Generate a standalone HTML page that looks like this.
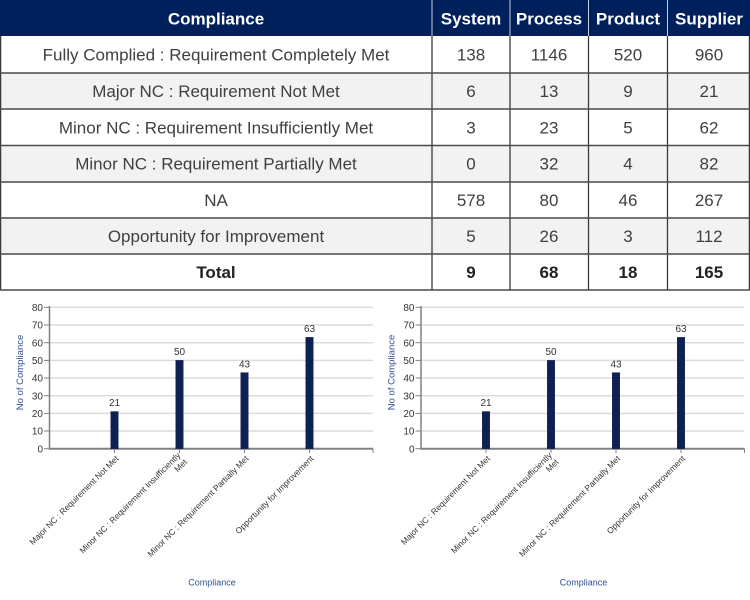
<!DOCTYPE html>
<html>
<head>
<meta charset="utf-8">
<style>
html,body{margin:0;padding:0;background:#fff;}
svg{display:block;}
.hd{font-family:"Liberation Sans",Arial,sans-serif;font-size:17px;font-weight:bold;fill:#fff;text-anchor:middle;}
.td{font-family:"Liberation Sans",Arial,sans-serif;font-size:17px;fill:#404040;text-anchor:middle;}
.tb{font-family:"Liberation Sans",Arial,sans-serif;font-size:17px;font-weight:bold;fill:#222;text-anchor:middle;}
.yt{font-family:"Liberation Sans",Arial,sans-serif;font-size:10px;fill:#333;text-anchor:end;}
.vl{font-family:"Liberation Sans",Arial,sans-serif;font-size:10px;fill:#333;text-anchor:middle;}
.xl{font-family:"Liberation Sans",Arial,sans-serif;font-size:8.4px;fill:#333;text-anchor:end;}
.at{font-family:"Liberation Sans",Arial,sans-serif;font-size:9px;fill:#2f4f8f;text-anchor:middle;}
</style>
</head>
<body>
<svg width="750" height="600" viewBox="0 0 750 600" xmlns="http://www.w3.org/2000/svg">
  <!-- TABLE -->
  <rect x="0" y="0" width="750" height="36" fill="#00205b"/>
  <rect x="0" y="36" width="750" height="37" fill="#ffffff"/>
  <rect x="0" y="73" width="750" height="36" fill="#f2f2f2"/>
  <rect x="0" y="109" width="750" height="36.5" fill="#ffffff"/>
  <rect x="0" y="145.5" width="750" height="36.5" fill="#f2f2f2"/>
  <rect x="0" y="182" width="750" height="36" fill="#ffffff"/>
  <rect x="0" y="218" width="750" height="36" fill="#f2f2f2"/>
  <rect x="0" y="254" width="750" height="36" fill="#ffffff"/>

  <!-- header dividers -->
  <g stroke="#c8d0e0" stroke-width="1">
    <line x1="432" y1="0" x2="432" y2="36"/>
    <line x1="510" y1="0" x2="510" y2="36"/>
    <line x1="588.5" y1="0" x2="588.5" y2="36"/>
    <line x1="667.5" y1="0" x2="667.5" y2="36"/>
  </g>
  <!-- body vertical lines -->
  <g stroke="#3a3a3a" stroke-width="1.3">
    <line x1="0.6" y1="36" x2="0.6" y2="290"/>
    <line x1="432" y1="36" x2="432" y2="290"/>
    <line x1="510" y1="36" x2="510" y2="290"/>
    <line x1="588.5" y1="36" x2="588.5" y2="290"/>
    <line x1="667.5" y1="36" x2="667.5" y2="290"/>
    <line x1="749.4" y1="36" x2="749.4" y2="290"/>
  </g>
  <!-- horizontal lines -->
  <g stroke="#4a4a4a" stroke-width="1.5">
    <line x1="0" y1="73" x2="750" y2="73"/>
    <line x1="0" y1="109" x2="750" y2="109"/>
    <line x1="0" y1="145.5" x2="750" y2="145.5"/>
    <line x1="0" y1="182" x2="750" y2="182"/>
    <line x1="0" y1="218" x2="750" y2="218"/>
    <line x1="0" y1="254" x2="750" y2="254"/>
    <line x1="0" y1="290" x2="750" y2="290"/>
  </g>

  <text class="hd" x="216" y="24.5">Compliance</text>
  <text class="hd" x="471" y="24.5">System</text>
  <text class="hd" x="549" y="24.5">Process</text>
  <text class="hd" x="628" y="24.5">Product</text>
  <text class="hd" x="709" y="24.5">Supplier</text>

  <text class="td" x="216" y="60.5">Fully Complied : Requirement Completely Met</text>
  <text class="td" x="471" y="60.5">138</text><text class="td" x="549" y="60.5">1146</text><text class="td" x="628" y="60.5">520</text><text class="td" x="709" y="60.5">960</text>

  <text class="td" x="216" y="97">Major NC : Requirement Not Met</text>
  <text class="td" x="471" y="97">6</text><text class="td" x="549" y="97">13</text><text class="td" x="628" y="97">9</text><text class="td" x="709" y="97">21</text>

  <text class="td" x="216" y="133.3">Minor NC : Requirement Insufficiently Met</text>
  <text class="td" x="471" y="133.3">3</text><text class="td" x="549" y="133.3">23</text><text class="td" x="628" y="133.3">5</text><text class="td" x="709" y="133.3">62</text>

  <text class="td" x="216" y="169.7">Minor NC : Requirement Partially Met</text>
  <text class="td" x="471" y="169.7">0</text><text class="td" x="549" y="169.7">32</text><text class="td" x="628" y="169.7">4</text><text class="td" x="709" y="169.7">82</text>

  <text class="td" x="216" y="206">NA</text>
  <text class="td" x="471" y="206">578</text><text class="td" x="549" y="206">80</text><text class="td" x="628" y="206">46</text><text class="td" x="709" y="206">267</text>

  <text class="td" x="216" y="242">Opportunity for Improvement</text>
  <text class="td" x="471" y="242">5</text><text class="td" x="549" y="242">26</text><text class="td" x="628" y="242">3</text><text class="td" x="709" y="242">112</text>

  <text class="tb" x="216" y="278">Total</text>
  <text class="tb" x="471" y="278">9</text><text class="tb" x="549" y="278">68</text><text class="tb" x="628" y="278">18</text><text class="tb" x="709" y="278">165</text>

  <!-- CHART DEFINITION -->
  <defs>
    <g id="chart">
      <!-- gridlines -->
      <g stroke="#dcdcdc" stroke-width="1.5">
        <line x1="49.5" y1="307.3" x2="373" y2="307.3"/>
        <line x1="49.5" y1="325.0" x2="373" y2="325.0"/>
        <line x1="49.5" y1="342.7" x2="373" y2="342.7"/>
        <line x1="49.5" y1="360.4" x2="373" y2="360.4"/>
        <line x1="49.5" y1="378.0" x2="373" y2="378.0"/>
        <line x1="49.5" y1="395.7" x2="373" y2="395.7"/>
        <line x1="49.5" y1="413.4" x2="373" y2="413.4"/>
        <line x1="49.5" y1="431.0" x2="373" y2="431.0"/>
      </g>
      <!-- y ticks -->
      <g stroke="#808080" stroke-width="1">
        <line x1="44" y1="307.3" x2="49.5" y2="307.3"/>
        <line x1="44" y1="325.0" x2="49.5" y2="325.0"/>
        <line x1="44" y1="342.7" x2="49.5" y2="342.7"/>
        <line x1="44" y1="360.4" x2="49.5" y2="360.4"/>
        <line x1="44" y1="378.0" x2="49.5" y2="378.0"/>
        <line x1="44" y1="395.7" x2="49.5" y2="395.7"/>
        <line x1="44" y1="413.4" x2="49.5" y2="413.4"/>
        <line x1="44" y1="431.0" x2="49.5" y2="431.0"/>
        <line x1="44" y1="448.7" x2="49.5" y2="448.7"/>
        <line x1="114.5" y1="448.7" x2="114.5" y2="453"/>
        <line x1="179.5" y1="448.7" x2="179.5" y2="453"/>
        <line x1="244.5" y1="448.7" x2="244.5" y2="453"/>
        <line x1="309.5" y1="448.7" x2="309.5" y2="453"/>
        <line x1="373" y1="448.7" x2="373" y2="453"/>
      </g>
      <line x1="49.5" y1="306" x2="49.5" y2="449.5" stroke="#808080" stroke-width="1.5"/>
      <line x1="49" y1="448.7" x2="373" y2="448.7" stroke="#808080" stroke-width="2"/>
      <!-- y labels -->
      <text class="yt" x="43" y="311">80</text>
      <text class="yt" x="43" y="328.7">70</text>
      <text class="yt" x="43" y="346.4">60</text>
      <text class="yt" x="43" y="364.1">50</text>
      <text class="yt" x="43" y="381.7">40</text>
      <text class="yt" x="43" y="399.4">30</text>
      <text class="yt" x="43" y="417.1">20</text>
      <text class="yt" x="43" y="434.7">10</text>
      <text class="yt" x="43" y="452.4">0</text>
      <!-- bars -->
      <g fill="#0d2253" stroke="#1b2c5a" stroke-width="0.6">
        <rect x="110.8" y="411.6" width="7.4" height="37.1"/>
        <rect x="175.8" y="360.4" width="7.4" height="88.3"/>
        <rect x="240.8" y="372.7" width="7.4" height="76"/>
        <rect x="305.8" y="337.4" width="7.4" height="111.3"/>
      </g>
      <!-- value labels -->
      <text class="vl" x="114.5" y="406">21</text>
      <text class="vl" x="179.5" y="355">50</text>
      <text class="vl" x="244.5" y="367.3">43</text>
      <text class="vl" x="309.5" y="332">63</text>
      <!-- x labels -->
      <g transform="translate(117,457) rotate(-45)"><text class="xl" x="0" y="3">Major NC : Requirement Not Met</text></g>
      <g transform="translate(182,457) rotate(-45)"><text class="xl" x="0" y="-1.5">Minor NC : Requirement Insufficiently</text><text class="xl" x="0" y="8">Met</text></g>
      <g transform="translate(247,457) rotate(-45)"><text class="xl" x="0" y="3">Minor NC : Requirement Partially Met</text></g>
      <g transform="translate(312,457) rotate(-45)"><text class="xl" x="0" y="3">Opportunity for Improvement</text></g>
      <!-- axis titles -->
      <text class="at" transform="translate(23,372.5) rotate(-90)" x="0" y="0" style="font-size:9.5px">No of Compliance</text>
      <text class="at" x="212" y="585.5">Compliance</text>
    </g>
  </defs>

  <use href="#chart" x="0" y="0"/>
  <use href="#chart" transform="translate(371.5,0)"/>
</svg>
</body>
</html>
